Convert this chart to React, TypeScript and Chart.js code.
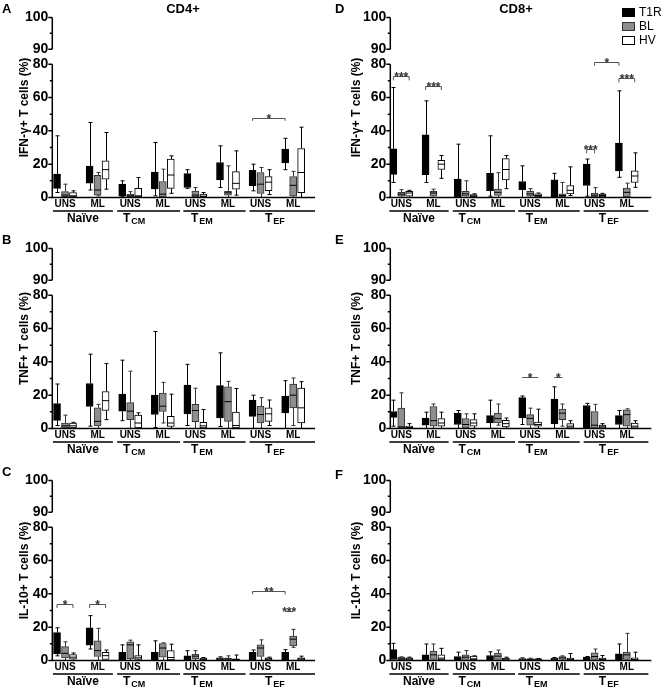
import React, { useEffect, useRef } from 'react';
import { Chart, registerables } from 'chart.js';
Chart.register(...registerables);

const FONT = '"Liberation Sans", Arial, Helvetica, sans-serif';

// ---------- categories / labels ----------
const SERIES = ['T1R', 'BL', 'HV'];
const GROUP_LABELS = ['UNS', 'ML', 'UNS', 'ML', 'UNS', 'ML', 'UNS', 'ML'];
const SUBSET_MAIN = ['Naïve', 'T', 'T', 'T'];
const SUBSET_SUB = ['', 'CM', 'EM', 'EF'];
const Y_TICKS = [0, 20, 40, 60, 80, 90, 100];
const Y_MINOR = [10, 30, 50, 70, 95];

// ---------- data: [min, q1, median, q3, max] per group ----------
// Panel A: CD4+ IFN-γ
const A_T1R = [[3, 5.5, 10, 14, 37], [4.5, 8.6, 12, 18.8, 45], [0.4, 0.8, 4, 8, 10], [1, 5.1, 10, 15.3, 33], [5.5, 6, 10, 14.3, 16.7], [6, 10.6, 15, 21, 31], [4, 7.1, 12, 16.3, 20], [16.7, 20.8, 25, 29, 35.5]];
const A_BL = [[0, 0.5, 1.5, 3.5, 8], [1, 1.4, 4.5, 13.3, 15], [0, 0.4, 1, 2, 3.5], [0, 0.4, 2, 9.6, 17], [0, 0.4, 1.5, 3.9, 6], [0, 1.4, 2.8, 3.7, 19], [0, 2.4, 8, 15, 18], [0, 0.8, 7.3, 12.6, 15.7]];
const A_HV = [[0, 0.4, 1, 3, 4], [5, 11, 16.7, 22, 39], [0, 0.4, 1, 5.5, 12], [2.5, 5.5, 13.5, 23, 25], [0, 0.4, 0.8, 2, 3], [1.4, 5, 8.5, 15.5, 28], [1.8, 4.1, 9.2, 12.6, 16.7], [0, 2.9, 15, 29.4, 42.2]];
// Panel B: CD4+ TNF
const B_T1R = [[1.8, 4.9, 10, 15, 26.7], [1.4, 13.2, 20, 27, 44.6], [4.7, 10.4, 15, 20.6, 41], [0.6, 8.4, 14, 20, 58.2], [1.8, 8.8, 17, 26, 38.5], [1.2, 6.3, 15, 25.7, 45.4], [0, 7.3, 12, 17.1, 20], [0, 9.4, 14, 19.5, 28.7]];
const B_BL = [[0, 0.4, 1.6, 3.3, 8], [0, 1.6, 4.3, 12.4, 14.5], [0, 5.3, 10.4, 15.5, 34.4], [3.3, 10.2, 13.4, 21.2, 27.7], [0, 4.1, 10.8, 14.5, 24.2], [0, 4.3, 16.1, 25, 28.3], [0, 3.3, 8.4, 13.4, 18.5], [1.8, 12.4, 20, 26.7, 30.3]];
const B_HV = [[0, 0.4, 1.6, 3.3, 3.7], [5.3, 10.8, 16.7, 22.2, 38.9], [0, 0.4, 3.3, 8, 9.4], [0, 1.2, 3.3, 7.3, 20.6], [0, 0.4, 1.6, 3.7, 11.4], [0, 0.4, 1.8, 9.8, 24], [1.8, 4.3, 8.8, 12.4, 17.1], [0, 3.3, 12.4, 24.2, 28.1]];
// Panel C: CD4+ IL-10
const C_T1R = [[2.8, 3.9, 10, 16.7, 19.6], [6.9, 9.2, 14, 19.6, 26.9], [0, 0.4, 2, 4.9, 9.4], [0, 0.4, 2, 4.9, 11.8], [0, 0.4, 1.5, 2.8, 5.9], [0, 0.4, 1, 1.6, 2.2], [0, 0.4, 2.5, 4.9, 6.3], [0, 0.4, 2.5, 4.9, 6.5]];
const C_BL = [[0, 1.6, 4.3, 8.3, 11.2], [0, 2.4, 5.9, 11.8, 19.3], [0, 1, 9.4, 11.2, 12.2], [0, 2, 7.5, 10.2, 10.6], [0, 1, 2.6, 3.9, 5.9], [0, 0.4, 1, 1.4, 2.8], [0, 2.4, 7.5, 9.4, 12.4], [7.9, 8.8, 12.8, 14.7, 18.7]];
const C_HV = [[0, 0.8, 2, 3.5, 4.5], [0, 0.6, 2.9, 4.9, 6.3], [0, 0.6, 1.6, 2.9, 9.4], [0, 0.4, 1.8, 5.9, 9.8], [0, 0.4, 0.8, 1.4, 1.8], [0, 0.2, 0.6, 1, 3.3], [0, 0.4, 1, 1.6, 2], [0, 0.4, 1, 1.6, 2.6]];
// Panel D: CD8+ IFN-γ
const D_T1R = [[9, 13.9, 18, 29.2, 66], [9, 13.7, 25, 37.6, 58], [0, 0, 3, 11, 32], [0.8, 4.1, 9, 14.5, 37], [0, 4.7, 7, 9.6, 19], [0, 0.2, 5, 10.6, 14.5], [0.8, 7.2, 15, 20, 23.1], [12.1, 15.9, 25, 32.7, 64]];
const D_BL = [[0, 0.8, 2, 3.1, 4.7], [0, 0.8, 2.7, 3.7, 5], [0, 0.8, 2.2, 3.7, 10], [0, 1.2, 3.1, 5.1, 14.9], [0, 0.8, 2.2, 3.7, 5.3], [0, 0.4, 1.2, 2.2, 9], [0, 0.4, 1.4, 2.7, 5.9], [0, 0.4, 3.1, 5.7, 8.6]];
const D_HV = [[0, 0.8, 2.7, 3.7, 4.3], [11.5, 16.8, 20, 22.3, 25.2], [0, 0.4, 1, 1.8, 2.2], [5.3, 10.6, 16.8, 23.3, 25.2], [0, 0.4, 1.2, 2.2, 2.7], [1.2, 2.2, 4.3, 7.2, 18.4], [0, 0.4, 1.2, 2, 2.5], [6.1, 9, 12.9, 16, 26.8]];
// Panel E: CD8+ TNF
const E_T1R = [[1.4, 6.7, 8.3, 10.2, 17], [0, 2, 4, 6.3, 9.8], [0, 2.4, 6, 9.2, 10.8], [0, 3.3, 5, 7.7, 17], [2.4, 6.3, 12, 18.5, 19.5], [0, 2.8, 10, 17.7, 25], [0, 0.2, 8, 13.8, 15.1], [0, 2.4, 5, 7.7, 10.8]];
const E_BL = [[0, 0.2, 1, 12.2, 21.4], [0, 1.4, 4.7, 13.2, 14.7], [0, 0.2, 2.4, 5.9, 8.8], [2, 3.3, 5.9, 9.2, 14.7], [0, 2, 6.1, 8.3, 12.2], [1.4, 5.3, 9.2, 11.6, 14.7], [0, 0.2, 2, 10.2, 14.5], [0, 1.4, 8.3, 11.2, 11.8]];
const E_HV = [[0, 0.2, 0.6, 1.4, 2.9], [0, 1.4, 3.3, 5.9, 9.8], [0, 1.4, 3.3, 5.3, 8.8], [0, 1, 2.9, 4.9, 6.3], [0, 1.4, 2.4, 3.9, 11.6], [0, 0.2, 1.4, 2.9, 4.7], [0, 0.2, 1, 2, 2.9], [0, 0.2, 1.4, 3.3, 4.7]];
// Panel F: CD8+ IL-10
const F_T1R = [[0, 0.6, 3, 6.5, 10.3], [0, 0.4, 2, 3.4, 9.9], [0, 0.4, 1.2, 2.4, 5], [0, 0.4, 1.5, 3, 5.2], [0, 0.4, 0.8, 1.2, 1.6], [0, 0.4, 0.8, 1.4, 1.8], [0, 0.4, 1, 2, 2.4], [0, 0.4, 2, 4, 9.9]];
const F_BL = [[0, 0.4, 1, 2, 2.2], [0, 0.6, 3.4, 5.6, 9.9], [0, 0.6, 2, 3.4, 6], [0, 0.6, 2.6, 4.4, 6.3], [0, 0.4, 0.7, 1, 1.4], [0, 0.6, 1.6, 2.4, 2.8], [0, 0.6, 2.4, 4.6, 6.9], [0, 0.6, 3.4, 5, 16.3]];
const F_HV = [[0, 0.4, 1, 1.6, 2], [0, 0.4, 1.4, 3.4, 7.3], [0, 0.4, 1, 2.6, 2.8], [0, 0.4, 1, 1.4, 2], [0, 0.4, 0.7, 1, 1.2], [0, 0.4, 0.8, 1.4, 4.2], [0, 0.4, 0.8, 1.4, 3], [0, 0.4, 0.8, 1.6, 5]];

// significance brackets: [group1, series1, group2, series2, level, leg, label]
const A_SIG = [[6, 0, 7, 0, 48, 2, '*']];
const B_SIG = [];
const C_SIG = [[0, 0, 0, 2, 34, 2.5, '*'], [1, 0, 1, 2, 34, 2.5, '*'], [6, 0, 7, 0, 41.7, 2, '**'], [7, 0, 7, 1, 29.5, 0, '***']];
const D_SIG = [[0, 0, 0, 2, 72.8, 2.5, '***'], [1, 0, 1, 2, 67, 2.5, '***'], [6, 1, 7, 0, 81.5, 2.5, '*'], [6, 0, 6, 1, 29, 2.5, '***'], [7, 0, 7, 2, 71.6, 2.5, '***']];
const E_SIG = [[4, 0, 4, 2, 30.8, 0, '*'], [5, 0, 5, 1, 30.8, 0, '*']];
const F_SIG = [];

// ---------- styling / layout ----------
const FILL = ['#000000', '#8e8e8e', '#ffffff'];
const EDGE = ['#000000', '#333333', '#000000'];
const OFFSET = [-0.245, 0, 0.245];
const SUB_LINE = [[-0.37, 1.47], [1.6, 3.53], [3.63, 5.54], [5.66, 7.67]];
const SUB_POS = [0.55, 2.12, 4.2, 6.44];

const COLS = [
  { left: 0, width: 333, padR: 18, xMin: -0.39, xMax: 7.67, titlePad: 17.5 },
  { left: 338, width: 328, padR: 14.7, xMin: -0.34, xMax: 7.76, titlePad: 11.3 },
];
const ROWS = [0, 231, 463];
const CANVAS_H = 230;

const PANELS = [
  { id: 'A', col: 0, row: 0, title: 'IFN-γ+ T cells (%)', data: [A_T1R, A_BL, A_HV], sig: A_SIG },
  { id: 'B', col: 0, row: 1, title: 'TNF+ T cells (%)', data: [B_T1R, B_BL, B_HV], sig: B_SIG },
  { id: 'C', col: 0, row: 2, title: 'IL-10+ T cells (%)', data: [C_T1R, C_BL, C_HV], sig: C_SIG },
  { id: 'D', col: 1, row: 0, title: 'IFN-γ+ T cells (%)', data: [D_T1R, D_BL, D_HV], sig: D_SIG },
  { id: 'E', col: 1, row: 1, title: 'TNF+ T cells (%)', data: [E_T1R, E_BL, E_HV], sig: E_SIG },
  { id: 'F', col: 1, row: 2, title: 'IL-10+ T cells (%)', data: [F_T1R, F_BL, F_HV], sig: F_SIG },
];

// broken axis: 0-80 linear, gap, 90-100 stretched
function toDisplay(v: number) {
  if (v <= 80) return v;
  if (v <= 90) return 80 + (v - 80) * 0.9;
  return 89 + (v - 90) * 1.9;
}
const Y_MAX = toDisplay(100);

const extrasPlugin = {
  id: 'extras',
  afterDatasetsDraw(chart: any) {
    const cfg = chart.options.plugins.extras;
    const ctx = chart.ctx;
    const ys = chart.scales.y;
    const py = (v: number) => ys.getPixelForValue(toDisplay(v));
    ctx.save();
    cfg.data.forEach((rows: number[][], s: number) => {
      const meta = chart.getDatasetMeta(s);
      rows.forEach((r, g) => {
        const el = meta.data[g];
        if (!el) return;
        const cx = Math.round(el.x) + 0.5;
        const [mn, q1, md, q3, mx] = r;
        ctx.strokeStyle = s === 1 ? '#333' : '#000';
        ctx.lineWidth = 1;
        ctx.beginPath();
        ctx.moveTo(cx, py(q3));
        ctx.lineTo(cx, py(mx));
        ctx.moveTo(cx - 2, py(mx));
        ctx.lineTo(cx + 2, py(mx));
        ctx.moveTo(cx, py(q1));
        ctx.lineTo(cx, py(mn));
        ctx.moveTo(cx - 2, py(mn));
        ctx.lineTo(cx + 2, py(mn));
        ctx.stroke();
        if (s > 0) {
          const w = el.width / 2;
          ctx.strokeStyle = '#000';
          ctx.beginPath();
          ctx.moveTo(el.x - w, py(md));
          ctx.lineTo(el.x + w, py(md));
          ctx.stroke();
        }
      });
    });
    ctx.restore();
  },
  afterDraw(chart: any) {
    const cfg = chart.options.plugins.extras;
    const ctx = chart.ctx;
    const xs = chart.scales.x;
    const ys = chart.scales.y;
    const area = chart.chartArea;
    const py = (v: number) => ys.getPixelForValue(toDisplay(v));
    const ax = area.left;
    ctx.save();
    ctx.strokeStyle = '#000';
    ctx.lineWidth = 1.5;
    // broken y axis
    ctx.beginPath();
    ctx.moveTo(ax, py(0));
    ctx.lineTo(ax, py(80));
    ctx.moveTo(ax, py(90));
    ctx.lineTo(ax, py(100));
    Y_TICKS.forEach((v) => { ctx.moveTo(ax, py(v)); ctx.lineTo(ax - 4, py(v)); });
    Y_MINOR.forEach((v) => { ctx.moveTo(ax, py(v)); ctx.lineTo(ax - 2.5, py(v)); });
    ctx.stroke();
    // x axis
    ctx.beginPath();
    ctx.moveTo(ax - 0.75, area.bottom);
    ctx.lineTo(area.right, area.bottom);
    ctx.stroke();
    // subset underlines and labels
    const uy = area.bottom + 13.5;
    ctx.beginPath();
    SUB_LINE.forEach(([a, b]) => {
      ctx.moveTo(xs.getPixelForValue(a), uy);
      ctx.lineTo(xs.getPixelForValue(b), uy);
    });
    ctx.stroke();
    ctx.fillStyle = '#000';
    ctx.textBaseline = 'middle';
    ctx.textAlign = 'left';
    SUBSET_MAIN.forEach((main, i) => {
      const sub = SUBSET_SUB[i];
      ctx.font = `bold 12px ${FONT}`;
      const w1 = ctx.measureText(main).width;
      ctx.font = `bold 9px ${FONT}`;
      const w2 = sub ? ctx.measureText(sub).width + 1 : 0;
      const cx = xs.getPixelForValue(SUB_POS[i]);
      const start = cx - (w1 + w2) / 2;
      const cy = area.bottom + 21.5;
      ctx.font = `bold 12px ${FONT}`;
      ctx.fillText(main, start, cy);
      if (sub) {
        ctx.font = `bold 9px ${FONT}`;
        ctx.fillText(sub, start + w1 + 1, cy + 3);
      }
    });
    // significance brackets
    ctx.strokeStyle = '#555';
    ctx.lineWidth = 1;
    ctx.fillStyle = '#333';
    ctx.textAlign = 'center';
    ctx.textBaseline = 'alphabetic';
    ctx.font = `bold 12px ${FONT}`;
    cfg.sig.forEach(([g1, s1, g2, s2, v, leg, label]: any) => {
      const x1 = xs.getPixelForValue(g1 + OFFSET[s1]);
      const x2 = xs.getPixelForValue(g2 + OFFSET[s2]);
      const yy = Math.round(py(v)) + 0.5;
      const yl = py(v - leg);
      ctx.beginPath();
      ctx.moveTo(x1, yl);
      ctx.lineTo(x1, yy);
      ctx.lineTo(x2, yy);
      ctx.lineTo(x2, yl);
      ctx.stroke();
      ctx.fillText(label, (x1 + x2) / 2, yy + 4);
    });
    ctx.restore();
  },
};

function Panel({ p }: { p: any }) {
  const ref = useRef<HTMLCanvasElement>(null);
  const col = COLS[p.col];
  useEffect(() => {
    const chart = new Chart(ref.current as HTMLCanvasElement, {
      type: 'bar',
      data: {
        datasets: SERIES.map((name, s) => ({
          label: name,
          data: p.data[s].map((r: number[], g: number) => ({ x: g + OFFSET[s], y: [toDisplay(r[1]), toDisplay(r[3])] })),
          backgroundColor: FILL[s],
          borderColor: EDGE[s],
          borderWidth: 1,
          borderSkipped: false,
          barThickness: 7,
          grouped: false,
        })),
      } as any,
      options: {
        responsive: false,
        animation: false,
        devicePixelRatio: 1,
        layout: { padding: { top: 17.5, right: col.padR, left: 0, bottom: 0 } },
        plugins: {
          legend: { display: false },
          tooltip: { enabled: false },
          extras: { data: p.data, sig: p.sig },
        } as any,
        scales: {
          x: {
            type: 'linear',
            offset: false,
            min: col.xMin,
            max: col.xMax,
            grid: { display: false, drawTicks: false },
            border: { display: false },
            afterBuildTicks: (s: any) => { s.ticks = GROUP_LABELS.map((_, i) => ({ value: i })); },
            afterFit: (s: any) => { s.height = 32.5; },
            ticks: {
              autoSkip: false, maxRotation: 0, minRotation: 0, padding: 1, color: '#000',
              font: { family: FONT, size: 10, weight: 'bold' },
              callback: (_v: any, i: number) => GROUP_LABELS[i],
            },
          },
          y: {
            type: 'linear',
            min: 0,
            max: Y_MAX,
            grid: { display: false, drawTicks: true, tickLength: 4 },
            border: { display: false },
            afterBuildTicks: (s: any) => { s.ticks = Y_TICKS.map((v) => ({ value: toDisplay(v) })); },
            afterFit: (s: any) => { s.width = 52.3; },
            ticks: {
              autoSkip: false, padding: 0, color: '#000',
              font: { family: FONT, size: 14, weight: 'bold' },
              callback: (_v: any, i: number) => String(Y_TICKS[i]),
            },
            title: {
              display: true, text: p.title, color: '#000',
              font: { family: FONT, size: 12, weight: 'bold' },
              padding: { top: col.titlePad, bottom: 0 },
            },
          },
        } as any,
      },
      plugins: [extrasPlugin],
    });
    return () => chart.destroy();
  }, []);
  return (
    <canvas
      ref={ref}
      width={col.width}
      height={CANVAS_H}
      style={{ position: 'absolute', left: col.left, top: ROWS[p.row], width: col.width, height: CANVAS_H }}
    />
  );
}

const LETTER_POS = { A: [2, 2], B: [2, 233], C: [2, 465], D: [335, 2], E: [335, 233], F: [335, 468] };
const LEGEND_Y = [12, 25.5, 39.5];

export default function App() {
  const txt = (extra: any) => ({ position: 'absolute', fontFamily: FONT, color: '#000', lineHeight: 1, whiteSpace: 'nowrap', ...extra });
  return (
    <div style={{ position: 'absolute', left: 0, top: 0, width: 666, height: 691, background: '#fff', overflow: 'hidden' }}>
      {PANELS.map((p) => <Panel key={p.id} p={p} />)}
      {PANELS.map((p) => (
        <div key={'l' + p.id} style={txt({ left: LETTER_POS[p.id][0], top: LETTER_POS[p.id][1], fontSize: 13, fontWeight: 'bold' })}>{p.id}</div>
      ))}
      <div style={txt({ left: 183, top: 2, fontSize: 13, fontWeight: 'bold', transform: 'translateX(-50%)' })}>CD4+</div>
      <div style={txt({ left: 516, top: 2, fontSize: 13, fontWeight: 'bold', transform: 'translateX(-50%)' })}>CD8+</div>
      {SERIES.map((name, s) => (
        <React.Fragment key={name}>
          <div style={{ position: 'absolute', left: 622, top: LEGEND_Y[s] - 4, width: 11, height: 7, background: FILL[s], border: `1px solid ${EDGE[s]}` }} />
          <div style={txt({ left: 639, top: LEGEND_Y[s] - 6, fontSize: 12 })}>{name}</div>
        </React.Fragment>
      ))}
    </div>
  );
}
